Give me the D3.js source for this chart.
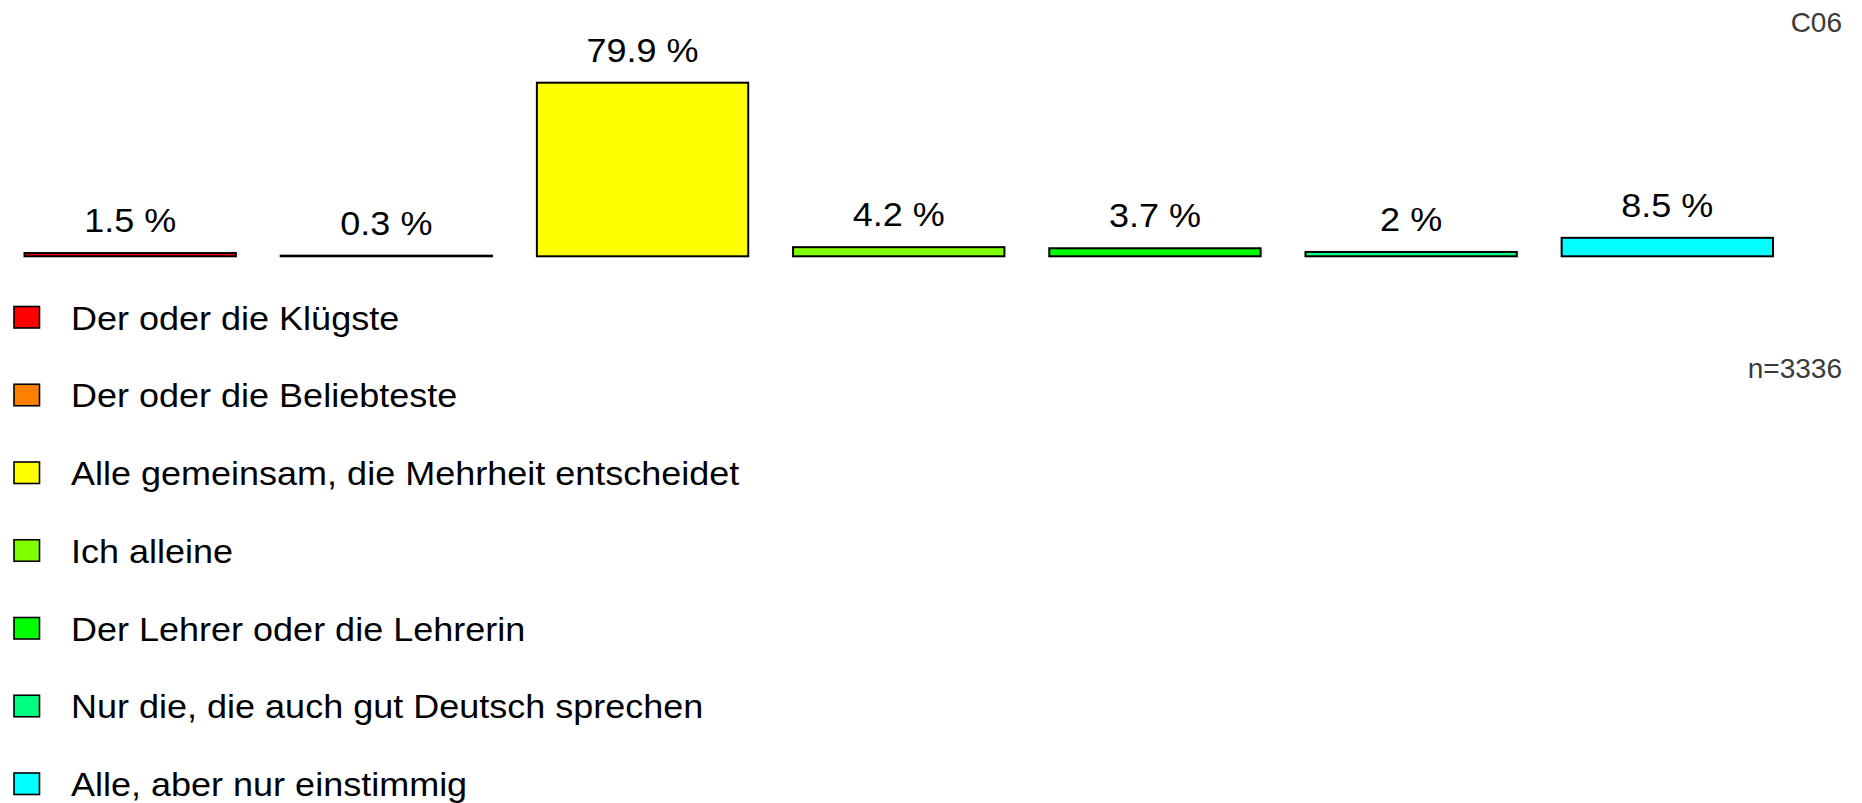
<!DOCTYPE html>
<html>
<head>
<meta charset="utf-8">
<script src="https://cdn.jsdelivr.net/npm/d3@7"></script>
<style>
  html, body { margin: 0; padding: 0; background: #fff; }
  svg { display: block; font-family: "Liberation Sans", Arial, Helvetica, sans-serif; }
</style>
</head>
<body>
<svg id="svg"></svg>
<script>
// data
var categories = [
    "Der oder die Klügste",
    "Der oder die Beliebteste",
    "Alle gemeinsam, die Mehrheit entscheidet",
    "Ich alleine",
    "Der Lehrer oder die Lehrerin",
    "Nur die, die auch gut Deutsch sprechen",
    "Alle, aber nur einstimmig"
];
var values = [1.5, 0.3, 79.9, 4.2, 3.7, 2, 8.5];
var colors = ["#ff0000", "#ff8000", "#ffff00", "#80ff00", "#00ff00", "#00ff80", "#00ffff"];
var chartCode = "C06";
var sampleText = "n=3336";

var width = 1862,
    height = 803,
    fontSize = 33.5,
    stretch = 1.075; // text in the source looks a bit wide

var svg = d3.select('#svg').attr('width', width).attr('height', height);

var x = d3.scaleBand()
    .domain(d3.range(categories.length))
    .range([24.5, 1773])
    .paddingInner(0.175)
    .paddingOuter(0);

var y = d3.scaleLinear()
    .domain([0, d3.max(values)])
    .range([256.3, 82.7]);

// bars
svg.append('g').selectAll('rect')
    .data(values)
    .enter().append('rect')
    .attr('x', function (d, i) { return x(i); })
    .attr('y', function (d) { return y(d); })
    .attr('width', x.bandwidth())
    .attr('height', function (d) { return y(0) - y(d); })
    .attr('fill', function (d, i) { return colors[i]; })
    .attr('stroke', '#000')
    .attr('stroke-width', 2);

// value labels
svg.append('g').selectAll('text')
    .data(values)
    .enter().append('text')
    .attr('transform', function (d, i) {
        return 'translate(' + (x(i) + x.bandwidth() / 2) + ',' + (y(d) - 21) + ') scale(' + stretch + ',1)';
    })
    .attr('text-anchor', 'middle')
    .attr('font-size', fontSize)
    .attr('fill', '#000')
    .text(function (d) { return d + ' %'; });

// legend
var rowY = d3.scalePoint()
    .domain(d3.range(categories.length))
    .range([317, 783.5]);

var legend = svg.append('g').selectAll('g')
    .data(categories)
    .enter().append('g')
    .attr('transform', function (d, i) { return 'translate(0,' + rowY(i) + ')'; });

legend.append('rect')
    .attr('x', 14)
    .attr('y', -10.5)
    .attr('width', 25.5)
    .attr('height', 21.5)
    .attr('fill', function (d, i) { return colors[i]; })
    .attr('stroke', '#000')
    .attr('stroke-width', 1.6);

legend.append('text')
    .attr('transform', 'translate(71,12.5) scale(' + stretch + ',1)')
    .attr('font-size', fontSize)
    .attr('fill', '#000')
    .text(function (d) { return d; });

// corner notes
svg.append('text')
    .attr('x', 1842)
    .attr('y', 32.3)
    .attr('text-anchor', 'end')
    .attr('font-size', 28)
    .attr('fill', '#3a3a3a')
    .text(chartCode);

svg.append('text')
    .attr('x', 1842)
    .attr('y', 377.7)
    .attr('text-anchor', 'end')
    .attr('font-size', 28)
    .attr('fill', '#3a3a3a')
    .text(sampleText);
</script>
</body>
</html>
